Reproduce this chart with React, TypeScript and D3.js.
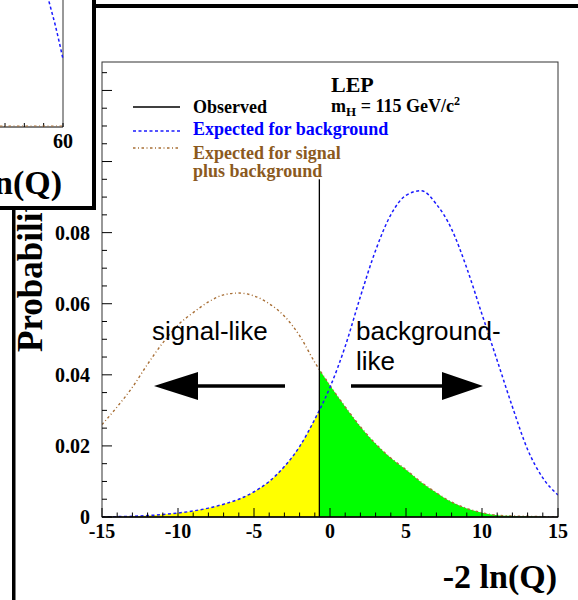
import React from 'react';
import * as d3 from 'd3';

// ---- data ----
const X_VALUES = [-15, -14, -13, -12, -11, -10, -9, -8, -7, -6, -5, -4, -3, -2, -1, 0, 1, 2, 3, 4, 5, 6, 7, 8, 9, 10, 11, 12, 13, 14, 15];
const BKG = [0.0, 0.0001, 0.0002, 0.0004, 0.0007, 0.0011, 0.0017, 0.0025, 0.0036, 0.005, 0.0071, 0.01, 0.0142, 0.0198, 0.0275, 0.0365, 0.048, 0.062, 0.075, 0.085, 0.0905, 0.0918, 0.088, 0.081, 0.07, 0.057, 0.044, 0.031, 0.019, 0.011, 0.0062];
const SIGBKG = [0.026, 0.031, 0.0365, 0.043, 0.049, 0.054, 0.0575, 0.0605, 0.0625, 0.063, 0.0622, 0.06, 0.0565, 0.051, 0.0435, 0.037, 0.031, 0.0254, 0.0206, 0.0166, 0.0133, 0.0098, 0.0068, 0.0042, 0.0024, 0.0012, 0.0005, 0.0003, 0.0002, 0.0001, 0.0];
const OBSERVED = -0.7;
const OBS_TOP = 0.095;
const X_MAJOR = [-15, -10, -5, 0, 5, 10, 15];
const X_LABELS = ['-15', '-10', '-5', '0', '5', '10', '15'];
const Y_MAJOR = [0, 0.02, 0.04, 0.06, 0.08, 0.1, 0.12];
const Y_LABELS = ['0', '0.02', '0.04', '0.06', '0.08', '0.1', '0.12'];
const LEGEND_LABELS = ['Observed', 'Expected for background', 'Expected for signal', 'plus background'];

// partially visible panel behind (top-left)
const INSET_X = [56, 57, 58, 59, 60];
const INSET_BKG = [0.135, 0.12, 0.105, 0.088, 0.07];
const INSET_TICKS = [45, 50, 55, 60];

const SERIF = '"Liberation Serif", "Times New Roman", serif';
const SANS = '"Liberation Sans", Arial, sans-serif';

export default function App() {
  const W = 578, H = 600;
  const x = d3.scaleLinear().domain([-15, 15]).range([102, 558]);
  const y = d3.scaleLinear().domain([0, 0.128]).range([517, 62]);

  const pts = X_VALUES.map((v, i) => ({ x: v, b: BKG[i], s: SIGBKG[i] }));
  const lineB = d3.line<any>().x(d => x(d.x)).y(d => y(d.b)).curve(d3.curveMonotoneX);
  const lineS = d3.line<any>().x(d => x(d.x)).y(d => y(d.s)).curve(d3.curveMonotoneX);
  const areaB = d3.area<any>().x(d => x(d.x)).y0(y(0)).y1(d => y(d.b)).curve(d3.curveMonotoneX);
  const areaS = d3.area<any>().x(d => x(d.x)).y0(y(0)).y1(d => y(d.s)).curve(d3.curveMonotoneX);

  const xMinor = d3.range(-15, 15.001, 1);
  const yMinor = d3.range(0, 0.1251, 0.005);

  // inset scales
  const ix = d3.scaleLinear().domain([45, 60]).range([5, 63]);
  const iy = d3.scaleLinear().domain([0, 0.1]).range([127, 30]);
  const insetLine = d3.line<number>().x((d, i) => ix(INSET_X[i])).y(d => iy(d)).curve(d3.curveMonotoneX);

  const legendY = [107, 131, 148];
  const legendTextY = [113, 135, 159, 177];
  const legendColors = ['#000', '#0000ff', '#8b5a1e', '#8b5a1e'];

  return (
    <svg width={W} height={H} style={{ position: 'absolute', left: 0, top: 0, background: '#fff' }}>
      <rect x={0} y={0} width={W} height={H} fill="#fff" />
      <defs>
        <clipPath id="leftClip"><rect x={x(-15)} y={0} width={x(OBSERVED) - x(-15)} height={H} /></clipPath>
        <clipPath id="rightClip"><rect x={x(OBSERVED)} y={0} width={x(15) - x(OBSERVED)} height={H} /></clipPath>
        <clipPath id="plotClip"><rect x={x(-15)} y={y(0.128)} width={x(15) - x(-15)} height={y(0) - y(0.128)} /></clipPath>
        <clipPath id="insetClip"><rect x={0} y={0} width={92} height={206} /></clipPath>
      </defs>

      {/* main panel frame */}
      <rect x={94} y={4} width={490} height={4} fill="#000" />
      <rect x={12} y={200} width={3.5} height={400} fill="#000" />

      {/* fills */}
      <path d={areaB(pts) || ''} fill="#ffff00" clipPath="url(#leftClip)" />
      <path d={areaS(pts) || ''} fill="#00ff00" clipPath="url(#rightClip)" />

      {/* curves */}
      <g clipPath="url(#plotClip)">
        <path d={lineS(pts) || ''} fill="none" stroke="#a86f36" strokeWidth={1.4} strokeDasharray="2.5,2.5,1,2.5" />
        <path d={lineB(pts) || ''} fill="none" stroke="#1a1aff" strokeWidth={1.5} strokeDasharray="3,2.5" />
      </g>

      {/* observed */}
      <line x1={x(OBSERVED)} x2={x(OBSERVED)} y1={y(0)} y2={y(OBS_TOP)} stroke="#000" strokeWidth={1.3} />

      {/* frame */}
      <rect x={x(-15)} y={y(0.128)} width={x(15) - x(-15)} height={y(0) - y(0.128)} fill="none" stroke="#333" strokeWidth={1} />
      <line x1={x(-15)} x2={x(15)} y1={y(0)} y2={y(0)} stroke="#000" strokeWidth={1.3} />

      {/* x ticks */}
      {xMinor.map(v => {
        const major = X_MAJOR.includes(v);
        return <line key={'xt' + v} x1={x(v)} x2={x(v)} y1={y(0)} y2={y(0) - (major ? 9 : 4.5)} stroke="#000" strokeWidth={1} />;
      })}
      {X_MAJOR.map((v, i) => (
        <text key={'xl' + v} x={x(v)} y={538} textAnchor="middle" fontFamily={SERIF} fontWeight="bold" fontSize={20}>{X_LABELS[i]}</text>
      ))}

      {/* y ticks */}
      {yMinor.map((v, i) => {
        const major = i % 4 === 0;
        return <line key={'yt' + i} x1={x(-15)} x2={x(-15) + (major ? 10 : 5)} y1={y(v)} y2={y(v)} stroke="#000" strokeWidth={1} />;
      })}
      {Y_MAJOR.map((v, i) => (
        <text key={'yl' + i} x={90} y={y(v) + 7} textAnchor="end" fontFamily={SERIF} fontWeight="bold" fontSize={20}>{Y_LABELS[i]}</text>
      ))}

      {/* axis titles */}
      <text x={557} y={588} textAnchor="end" fontFamily={SERIF} fontWeight="bold" fontSize={34}>-2 ln(Q)</text>
      <text transform="translate(42,352) rotate(-90)" fontFamily={SERIF} fontWeight="bold" fontSize={35}>Probability density</text>

      {/* legend */}
      <line x1={133} x2={180} y1={legendY[0]} y2={legendY[0]} stroke="#000" strokeWidth={1.3} />
      <line x1={133} x2={180} y1={legendY[1]} y2={legendY[1]} stroke="#1a1aff" strokeWidth={1.5} strokeDasharray="3,2.5" />
      <line x1={133} x2={180} y1={legendY[2]} y2={legendY[2]} stroke="#a86f36" strokeWidth={1.4} strokeDasharray="2.5,2.5,1,2.5" />
      {LEGEND_LABELS.map((t, i) => (
        <text key={'lg' + i} x={193} y={legendTextY[i]} fontFamily={SERIF} fontWeight="bold" fontSize={18} fill={legendColors[i]}>{t}</text>
      ))}

      <text x={331} y={92} fontFamily={SERIF} fontWeight="bold" fontSize={22}>LEP</text>
      <text x={331} y={112} fontFamily={SERIF} fontWeight="bold" fontSize={18}>
        m<tspan fontSize={13} dy={4}>H</tspan><tspan dy={-4}> = 115 GeV/c</tspan><tspan fontSize={12} dy={-7}>2</tspan>
      </text>

      {/* annotations */}
      <text x={152} y={340} fontFamily={SANS} fontSize={26}>signal-like</text>
      <text x={356} y={340} fontFamily={SANS} fontSize={26}>background-</text>
      <text x={356} y={370} fontFamily={SANS} fontSize={26}>like</text>
      <line x1={285} x2={195} y1={386} y2={386} stroke="#000" strokeWidth={3.5} />
      <path d={`M154,386 L198,372 L198,400 Z`} fill="#000" />
      <line x1={351} x2={444} y1={386} y2={386} stroke="#000" strokeWidth={3.5} />
      <path d={`M483,386 L442,372 L442,400 Z`} fill="#000" />

      {/* partially visible panel in the top-left */}
      <rect x={0} y={0} width={96} height={210} fill="#fff" />
      <g clipPath="url(#insetClip)">
        <line x1={0} x2={ix(60)} y1={iy(0)} y2={iy(0)} stroke="#000" strokeWidth={1} />
        <line x1={ix(60)} x2={ix(60)} y1={0} y2={iy(0)} stroke="#333" strokeWidth={1} />
        {INSET_TICKS.map(v => (
          <line key={'it' + v} x1={ix(v)} x2={ix(v)} y1={iy(0)} y2={iy(0) - 4} stroke="#000" strokeWidth={1} />
        ))}
        <line x1={0} x2={ix(60)} y1={iy(0) - 1} y2={iy(0) - 1} stroke="#a86f36" strokeWidth={1} strokeDasharray="2.5,2.5,1,2.5" />
        <path d={insetLine(INSET_BKG) || ''} fill="none" stroke="#1a1aff" strokeWidth={1.5} strokeDasharray="3,2.5" />
        <text x={ix(60)} y={148} textAnchor="middle" fontFamily={SERIF} fontWeight="bold" fontSize={20}>60</text>
        <text x={62} y={194} textAnchor="end" fontFamily={SERIF} fontWeight="bold" fontSize={34}>-2 ln(Q)</text>
      </g>
      <rect x={92} y={0} width={4} height={210} fill="#000" />
      <rect x={0} y={206} width={96} height={4} fill="#000" />
    </svg>
  );
}
